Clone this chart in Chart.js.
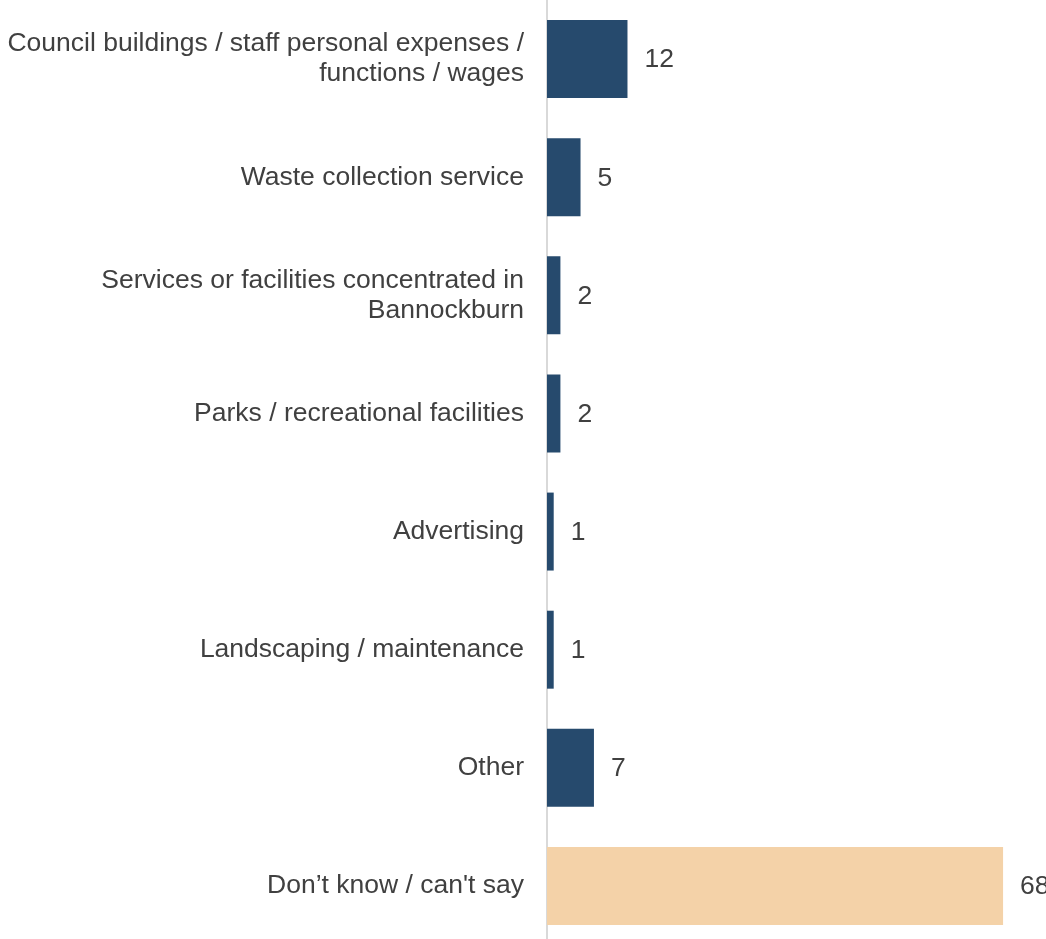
<!DOCTYPE html>
<html>
<head>
<meta charset="utf-8">
<script src="https://cdn.jsdelivr.net/npm/chart.js@4"></script>
<style>
  html, body { margin: 0; padding: 0; background: #fff; overflow: hidden; }
  #wrap { position: relative; width: 1046px; height: 945px; }
</style>
</head>
<body>
<div id="wrap"><canvas id="barChart"></canvas></div>
<script>
const categories = [
  ['Council buildings / staff personal expenses /', 'functions / wages'],
  'Waste collection service',
  ['Services or facilities concentrated in', 'Bannockburn'],
  'Parks / recreational facilities',
  'Advertising',
  'Landscaping / maintenance',
  'Other',
  'Don\u2019t know / can\'t say'
];
const values = [12, 5, 2, 2, 1, 1, 7, 68];
const barColors = ['#264a6d', '#264a6d', '#264a6d', '#264a6d', '#264a6d', '#264a6d', '#264a6d', '#f4d2a8'];

const fontFamily = 'Arial, "Liberation Sans", sans-serif';

// draws the numbers just right of each bar
const valueLabels = {
  id: 'valueLabels',
  afterDatasetsDraw(chart) {
    const ctx = chart.ctx;
    const meta = chart.getDatasetMeta(0);
    ctx.save();
    ctx.font = '26.5px ' + fontFamily;
    ctx.fillStyle = '#404040';
    ctx.textAlign = 'left';
    ctx.textBaseline = 'middle';
    meta.data.forEach((bar, i) => {
      ctx.fillText(String(values[i]), bar.x + 17, bar.y + 1);
    });
    ctx.restore();
  }
};

const ctx = document.getElementById('barChart').getContext('2d');
const chart = new Chart(ctx, {
  type: 'bar',
  data: {
    labels: categories,
    datasets: [{
      data: values,
      backgroundColor: barColors,
      borderWidth: 0,
      barPercentage: 0.66,
      categoryPercentage: 1
    }]
  },
  options: {
    indexAxis: 'y',
    responsive: true,
    maintainAspectRatio: false,
    animation: false,
    layout: { padding: 0 },
    plugins: {
      legend: { display: false },
      tooltip: { enabled: false }
    },
    scales: {
      x: {
        display: false,
        min: 0,
        max: 74.4
      },
      y: {
        grid: { display: false, drawTicks: false },
        border: { display: true, color: '#d9d9d9', width: 2 },
        ticks: {
          color: '#404040',
          padding: 23,
          font: { family: fontFamily, size: 26.5, lineHeight: 1.13 }
        },
        afterFit(scale) {
          scale.width = 547;
          scale.paddingTop = 0;
          scale.paddingBottom = 0;
        }
      }
    }
  },
  plugins: [valueLabels]
});
</script>
</body>
</html>
